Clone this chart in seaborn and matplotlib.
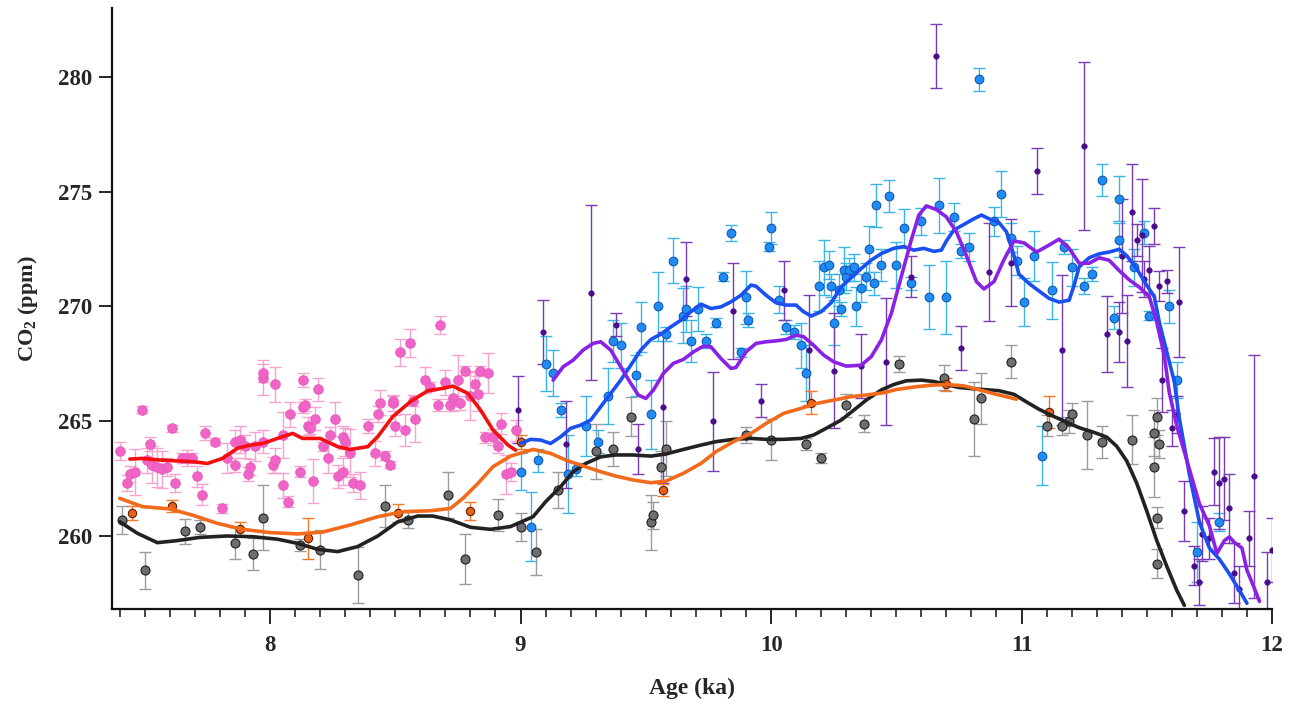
import numpy as np
import seaborn as sns
import matplotlib
matplotlib.use("Agg")
import matplotlib.pyplot as plt

# ---- pink dataset (7.4-9.0 ka) ----
pink_age = [7.40, 7.43, 7.44, 7.46, 7.49, 7.51, 7.52, 7.53, 7.55, 7.57, 7.59, 7.61, 7.62, 7.65, 7.67, 7.69,
            7.71, 7.73, 7.74, 7.78, 7.81, 7.83, 7.86, 7.86, 7.88, 7.90, 7.91, 7.92, 7.94, 7.97, 7.97, 7.97,
            8.01, 8.02, 8.02, 8.05, 8.05, 8.07, 8.08, 8.12, 8.13, 8.13, 8.14, 8.15, 8.16, 8.17, 8.18, 8.19,
            8.21, 8.23, 8.24, 8.26, 8.27, 8.29, 8.29, 8.30, 8.32, 8.33, 8.36, 8.39, 8.42, 8.43, 8.44, 8.46,
            8.48, 8.49, 8.49, 8.50, 8.52, 8.54, 8.56, 8.57, 8.58, 8.62, 8.64, 8.67, 8.68, 8.70, 8.72, 8.73,
            8.75, 8.76, 8.78, 8.80, 8.82, 8.83, 8.84, 8.86, 8.87, 8.89, 8.91, 8.92, 8.94, 8.96, 8.98]
pink_co2 = [263.7, 262.3, 262.7, 262.8, 265.5, 263.3, 264.0, 263.1, 263.0, 262.9, 263.0, 264.7, 262.3, 263.4, 263.4, 263.4,
            262.6, 261.8, 264.5, 264.1, 261.2, 263.4, 263.1, 264.1, 264.2, 263.9, 262.7, 263.0, 263.9, 264.1, 266.9, 267.1,
            263.1, 266.6, 263.3, 264.4, 262.2, 261.5, 265.3, 262.8, 265.6, 266.8, 265.7, 264.8, 264.7, 262.4, 265.1, 266.4,
            263.9, 263.4, 264.4, 265.1, 262.6, 262.8, 264.3, 264.1, 263.6, 262.3, 262.2, 264.8, 263.6, 265.3, 265.8, 263.5,
            263.1, 265.8, 265.9, 264.8, 268.0, 264.6, 268.4, 265.9, 265.1, 266.8, 266.5, 265.7, 269.2, 266.7, 265.7, 266.0,
            266.8, 265.8, 267.2, 266.1, 266.6, 266.2, 267.2, 264.3, 267.1, 264.3, 263.9, 264.9, 262.7, 262.8, 264.6]
pink_err = [0.4, 0.35, 0.35, 1.0, 0.15, 0.55, 0.3, 0.8, 0.85, 0.8, 0.4, 0.15, 0.4, 0.2, 0.35, 0.2,
            0.45, 0.45, 0.3, 0.15, 0.2, 0.65, 0.3, 0.5, 0.6, 0.5, 0.3, 0.35, 0.65, 0.5, 0.75, 0.4,
            0.35, 0.75, 0.55, 1.0, 0.55, 0.25, 0.55, 0.25, 0.25, 0.3, 0.25, 0.4, 0.25, 0.95, 0.5, 0.5,
            0.2, 0.65, 0.35, 0.75, 0.5, 0.6, 0.5, 0.6, 1.05, 0.4, 0.6, 0.3, 0.55, 0.35, 0.55, 0.2,
            0.15, 0.35, 0.2, 0.45, 0.6, 0.7, 0.6, 0.25, 1.0, 0.55, 0.2, 0.25, 0.4, 0.55, 0.25, 0.55,
            1.1, 0.3, 0.2, 1.05, 0.6, 0.75, 0.2, 0.25, 0.85, 0.35, 0.3, 0.45, 0.85, 0.4, 0.45]

red_age = [7.44, 7.49, 7.56, 7.63, 7.69, 7.75, 7.81, 7.87, 7.92, 7.97, 8.03, 8.09, 8.13, 8.20,
           8.27, 8.32, 8.39, 8.43, 8.49, 8.56, 8.63, 8.69, 8.73, 8.79, 8.84, 8.89, 8.95, 8.98]
red_co2 = [263.35, 263.38, 263.31, 263.27, 263.24, 263.16, 263.38, 263.82, 263.96, 264.03, 264.25, 264.47, 264.25, 264.25,
           263.89, 263.77, 263.89, 264.33, 265.2, 265.85, 266.33, 266.43, 266.53, 266.21, 265.49, 264.62, 263.96, 263.74]

# ---- grey dataset ----
grey_age = [7.41, 7.50, 7.66, 7.72, 7.86, 7.93, 7.97, 8.12, 8.20, 8.35, 8.46, 8.55, 8.71, 8.78, 8.91, 9.00,
            9.06, 9.15, 9.30, 9.37, 9.44, 9.52, 9.53, 9.56, 9.58, 9.90, 10.00, 10.14, 10.20, 10.30, 10.37, 10.51,
            10.69, 10.81, 10.84, 10.96, 11.10, 11.16, 11.19, 11.20, 11.26, 11.32, 11.44, 11.53, 11.54, 11.55,
            11.53, 11.54, 11.54]
grey_co2 = [260.7, 258.5, 260.2, 260.4, 259.7, 259.2, 260.8, 259.6, 259.4, 258.3, 261.3, 260.7, 261.8, 259.0, 260.9, 260.4,
            259.3, 262.0, 263.7, 263.8, 265.2, 260.6, 260.9, 263.0, 263.8, 264.4, 264.2, 264.0, 263.4, 265.7, 264.9, 267.5,
            266.9, 265.1, 266.0, 267.6, 264.8, 264.8, 265.0, 265.3, 264.4, 264.1, 264.2, 264.5, 265.2, 264.0,
            263.0, 260.8, 258.8]
grey_err = [0.6, 0.8, 0.55, 0.3, 0.7, 0.7, 1.4, 0.25, 0.85, 1.2, 0.9, 0.35, 1.0, 1.1, 0.7, 0.6,
            1.0, 0.8, 1.2, 0.75, 0.85, 1.2, 0.6, 0.7, 1.2, 0.35, 0.9, 0.25, 0.2, 0.5, 0.35, 0.35,
            0.55, 1.6, 1.1, 0.7, 0.45, 0.4, 0.5, 0.5, 1.5, 0.7, 1.05, 1.0, 0.8, 0.6,
            1.3, 0.45, 0.65]

black_age = [7.40, 7.47, 7.55, 7.63, 7.72, 7.83, 7.93, 8.03, 8.11, 8.19, 8.27, 8.35, 8.43, 8.51, 8.59, 8.65,
             8.72, 8.80, 8.88, 8.96, 9.05, 9.10, 9.16, 9.21, 9.26, 9.32, 9.38, 9.45, 9.52, 9.58, 9.65, 9.72,
             9.78, 9.85, 9.92, 9.98, 10.05, 10.12, 10.17, 10.22, 10.28, 10.33, 10.38, 10.44, 10.49, 10.54,
             10.60, 10.65, 10.70, 10.75, 10.81, 10.86, 10.91, 10.97, 11.02, 11.07, 11.13, 11.18, 11.23, 11.29,
             11.34, 11.38, 11.42, 11.46, 11.50, 11.54, 11.58, 11.62, 11.65]
black_co2 = [260.62, 260.12, 259.71, 259.80, 259.94, 260.0, 259.97, 259.86, 259.68, 259.42, 259.32, 259.54, 260.0, 260.62,
             260.87, 260.87, 260.70, 260.38, 260.29, 260.41, 260.84, 261.49, 262.15, 262.80, 263.16, 263.45, 263.53,
             263.53, 263.48, 263.57, 263.77, 263.96, 264.11, 264.21, 264.25, 264.21, 264.21, 264.25, 264.40, 264.69,
             265.05, 265.48, 265.92, 266.36, 266.60, 266.76, 266.79, 266.73, 266.60, 266.47, 266.41, 266.37, 266.33,
             266.17, 265.84, 265.52, 265.20, 264.96, 264.72, 264.51, 264.31, 263.91, 263.27, 262.30, 261.09, 259.80,
             258.68, 257.63, 256.98]

# ---- orange dataset ----
orange_age = [7.45, 7.61, 7.88, 8.15, 8.51, 8.80, 9.00, 9.57, 10.16, 10.70, 11.11]
orange_co2 = [261.0, 261.3, 260.3, 259.9, 261.0, 261.1, 264.1, 262.0, 265.8, 266.6, 265.4]
orange_err = [0.3, 0.25, 0.3, 0.9, 0.4, 0.4, 0.3, 0.25, 0.5, 0.3, 0.7]

orline_age = [7.40, 7.49, 7.60, 7.69, 7.79, 7.89, 8.00, 8.11, 8.21, 8.32, 8.43, 8.53, 8.64, 8.72, 8.77, 8.83,
              8.89, 8.96, 9.05, 9.12, 9.18, 9.25, 9.32, 9.38, 9.45, 9.52, 9.58, 9.65, 9.72, 9.78, 9.85, 9.92,
              9.98, 10.05, 10.12, 10.18, 10.25, 10.32, 10.38, 10.45, 10.50, 10.57, 10.64, 10.70, 10.77, 10.83,
              10.90, 10.98]
orline_co2 = [261.64, 261.28, 261.18, 260.91, 260.55, 260.29, 260.15, 260.09, 260.17, 260.48, 260.84, 261.06, 261.10,
              261.2, 261.64, 262.29, 263.02, 263.48, 263.77, 263.60, 263.31, 263.05, 262.80, 262.61, 262.44, 262.32,
              262.39, 262.73, 263.16, 263.67, 264.11, 264.47, 264.90, 265.34, 265.56, 265.77, 265.92, 266.07, 266.14,
              266.24, 266.38, 266.49, 266.57, 266.60, 266.54, 266.37, 266.17, 265.96]

# ---- blue dataset ----
blue_age = [9.00, 9.04, 9.07, 9.10, 9.13, 9.16, 9.19, 9.22, 9.26, 9.31, 9.35, 9.37, 9.40, 9.46, 9.48, 9.52,
            9.55, 9.58, 9.61, 9.65, 9.66, 9.68, 9.71, 9.74, 9.78, 9.81, 9.84, 9.88, 9.90, 9.91, 9.99, 10.00,
            10.03, 10.06, 10.09, 10.12, 10.14, 10.19, 10.21, 10.23, 10.24, 10.25, 10.27, 10.28, 10.29, 10.30,
            10.31, 10.33, 10.34, 10.36, 10.38, 10.39, 10.41, 10.42, 10.44, 10.47, 10.50, 10.53, 10.56, 10.60,
            10.63, 10.67, 10.70, 10.73, 10.76, 10.79, 10.83, 10.89, 10.92, 10.96, 10.98, 11.01, 11.05, 11.08,
            11.12, 11.17, 11.20, 11.25, 11.28, 11.32, 11.37, 11.39, 11.39, 11.45, 11.49, 11.51, 11.59, 11.62,
            11.70, 11.79]
blue_co2 = [262.8, 260.4, 263.3, 267.5, 267.1, 265.5, 262.7, 262.9, 264.8, 264.1, 266.1, 268.5, 268.3, 267.0, 269.1, 265.3,
            270.0, 268.8, 272.0, 269.6, 269.9, 268.5, 269.9, 268.5, 269.3, 271.3, 273.2, 268.0, 270.4, 269.4, 272.6, 273.4,
            270.3, 269.1, 268.9, 268.3, 267.1, 270.9, 271.7, 271.8, 270.9, 269.3, 270.7, 269.9, 271.6, 271.3,
            271.6, 271.7, 270.0, 270.8, 271.3, 272.5, 271.0, 274.4, 271.8, 274.8, 271.8, 273.4, 271.0, 273.7,
            270.4, 274.4, 270.4, 273.9, 272.4, 272.6, 279.9, 273.7, 274.9, 273.0, 272.0, 270.2, 272.2, 263.5,
            270.7, 272.6, 271.7, 270.9, 271.4, 275.5, 269.5, 272.9, 274.7, 271.7, 273.2, 269.6, 270.0, 266.8,
            259.3, 260.6]
blue_err = [0.8, 1.5, 0.5, 1.2, 1.0, 0.3, 1.7, 0.3, 1.3, 0.5, 1.2, 0.9, 1.0, 0.9, 1.1, 1.5,
            1.5, 0.3, 1.0, 1.2, 1.0, 0.9, 0.95, 0.3, 0.2, 0.2, 0.35, 0.2, 1.15, 0.3, 0.2, 0.7,
            0.6, 0.3, 0.3, 1.0, 1.2, 1.1, 1.2, 0.6, 0.5, 1.0, 0.7, 0.3, 1.0, 0.6,
            0.5, 0.6, 0.85, 0.6, 0.6, 1.0, 0.5, 0.95, 0.7, 0.7, 1.0, 0.85, 0.3, 0.6,
            1.4, 1.2, 1.6, 0.6, 0.3, 0.6, 0.5, 0.65, 1.0, 0.65, 0.65, 1.05, 1.1, 1.3,
            1.25, 0.3, 0.8, 0.35, 0.3, 0.7, 0.5, 0.75, 1.0, 0.8, 0.5, 0.2, 0.7, 0.8,
            1.3, 0.4]

bline_age = [9.00, 9.04, 9.08, 9.12, 9.16, 9.20, 9.24, 9.28, 9.32, 9.36, 9.40, 9.44, 9.48, 9.52, 9.56, 9.60,
             9.64, 9.68, 9.72, 9.76, 9.80, 9.84, 9.88, 9.92, 9.94, 9.98, 10.02, 10.06, 10.10, 10.13, 10.16, 10.20,
             10.24, 10.28, 10.32, 10.36, 10.40, 10.44, 10.49, 10.53, 10.57, 10.61, 10.65, 10.68, 10.70, 10.73,
             10.77, 10.81, 10.84, 10.87, 10.91, 10.94, 10.97, 10.99, 11.03, 11.07, 11.11, 11.15, 11.19, 11.21,
             11.23, 11.27, 11.31, 11.35, 11.39, 11.42, 11.46, 11.50, 11.53, 11.55, 11.58, 11.61, 11.63, 11.67,
             11.71, 11.75, 11.79, 11.83, 11.87, 11.90]
bline_co2 = [264.03, 264.21, 264.18, 264.03, 264.32, 264.69, 264.83, 265.05, 265.63, 266.21, 266.79, 267.44, 268.1,
             268.56, 268.79, 269.11, 269.40, 269.77, 270.1, 269.91, 269.98, 270.2, 270.49, 270.93, 270.88, 270.49,
             270.16, 270.06, 270.06, 269.77, 269.58, 269.77, 270.16, 270.85, 271.25, 271.65, 272.02, 272.3, 272.53,
             272.61, 272.45, 272.53, 272.40, 272.45, 272.85, 273.33, 273.57, 273.82, 273.98, 273.82, 273.65, 273.25,
             272.21, 271.40, 271.0, 270.67, 270.35, 270.19, 270.27, 270.92, 271.72, 272.12, 272.29, 272.37, 272.49,
             272.21, 271.64, 270.92, 270.43, 269.31, 268.02, 266.73, 265.12, 262.70, 260.61, 259.48, 258.99, 258.35,
             257.63, 257.07]

# ---- purple dataset ----
purple_age = [8.99, 9.09, 9.18, 9.28, 9.38, 9.47, 9.57, 9.66, 9.77, 9.85, 9.96, 10.05, 10.15, 10.25, 10.36, 10.46,
              10.56, 10.66, 10.76, 10.87, 10.96, 11.06, 11.16, 11.25, 11.34, 11.39, 11.40, 11.42, 11.44, 11.46,
              11.48, 11.49, 11.51, 11.53, 11.55, 11.56, 11.58, 11.60, 11.62, 11.63, 11.65, 11.69, 11.71, 11.72,
              11.75, 11.77, 11.79, 11.81, 11.83, 11.85, 11.87, 11.91, 11.93, 11.98, 12.00]
purple_co2 = [265.5, 268.9, 264.0, 270.6, 269.2, 263.8, 265.6, 271.2, 265.0, 269.8, 265.9, 270.7, 268.1, 267.2, 267.4, 267.6,
              271.3, 280.9, 268.2, 271.5, 271.9, 275.9, 268.1, 277.0, 268.8, 268.9, 272.2, 268.5, 274.1, 272.9,
              273.1, 271.2, 271.6, 273.5, 270.9, 266.8, 271.1, 264.7, 265.3, 270.2, 261.1, 258.7, 258.0, 260.1,
              259.9, 262.8, 262.3, 262.5, 261.2, 258.4, 257.7, 259.9, 262.6, 258.0, 259.4]
purple_err = [1.45, 1.4, 1.9, 3.8, 0.5, 1.1, 3.3, 1.6, 2.15, 2.1, 0.7, 1.3, 2.4, 2.5, 1.4, 2.75,
              0.9, 1.4, 0.95, 2.15, 1.9, 1.0, 3.25, 3.65, 1.65, 1.3, 2.5, 2.0, 2.1, 0.7,
              2.45, 0.8, 1.05, 0.8, 0.65, 1.4, 0.5, 0.8, 0.8, 2.4, 1.3, 0.85, 1.0, 1.2,
              0.9, 1.45, 2.0, 1.8, 1.5, 1.3, 1.0, 1.2, 5.3, 1.3, 1.4]

pline_age = [9.13, 9.17, 9.21, 9.25, 9.29, 9.32, 9.36, 9.40, 9.44, 9.47, 9.50, 9.53, 9.57, 9.61, 9.65, 9.69,
             9.73, 9.76, 9.80, 9.84, 9.86, 9.90, 9.94, 9.98, 10.02, 10.06, 10.10, 10.13, 10.17, 10.21, 10.25,
             10.30, 10.36, 10.40, 10.44, 10.48, 10.52, 10.56, 10.59, 10.62, 10.66, 10.70, 10.74, 10.78, 10.82,
             10.85, 10.89, 10.93, 10.97, 11.01, 11.06, 11.10, 11.15, 11.19, 11.23, 11.27, 11.31, 11.35, 11.39,
             11.43, 11.47, 11.51, 11.54, 11.57, 11.59, 11.62, 11.65, 11.68, 11.71, 11.75, 11.78, 11.81, 11.83,
             11.85, 11.88, 11.90, 11.93, 11.95]
pline_co2 = [266.79, 267.37, 267.66, 268.1, 268.39, 268.46, 268.10, 267.37, 266.65, 266.14, 265.99, 266.35, 267.08,
             267.52, 267.69, 268.02, 268.27, 268.24, 267.73, 267.3, 267.34, 268.02, 268.39, 268.46, 268.50, 268.56,
             268.75, 268.68, 268.31, 267.88, 267.59, 267.40, 267.44, 267.81, 268.53, 269.69, 271.3, 272.9, 273.98,
             274.38, 274.22, 273.90, 273.25, 272.21, 271.08, 270.76, 271.08, 272.04, 272.85, 272.77, 272.37, 272.61,
             272.93, 272.53, 271.88, 271.88, 272.12, 272.01, 271.56, 271.16, 270.84, 270.43, 269.31, 267.86, 266.25,
             264.80, 263.67, 262.54, 261.41, 260.45, 259.24, 259.80, 259.96, 259.72, 259.48, 258.51, 257.71, 257.15]

sns.set_style("ticks")
plt.rcParams['font.family'] = ['Liberation Serif', 'DejaVu Serif']
plt.rcParams['font.weight'] = 'bold'
plt.rcParams['mathtext.fontset'] = 'custom'
plt.rcParams['mathtext.rm'] = 'Liberation Serif:bold'
plt.rcParams['mathtext.bf'] = 'Liberation Serif:bold'

fig = plt.figure(figsize=(12.95, 7.16), dpi=100)
ax = fig.add_axes([112 / 1295, 1 - 609 / 716, 1160 / 1295, 601 / 716])


def points(age, co2, err, face, edge, bar, size, lw_edge):
    ax.errorbar(age, co2, yerr=err, fmt='none', ecolor=bar, elinewidth=1.0,
                capsize=4, capthick=1.0, zorder=1)
    sns.scatterplot(x=age, y=co2, ax=ax, color=face, edgecolor=edge, s=size,
                    linewidth=lw_edge, zorder=2, legend=False)


points(pink_age, pink_co2, pink_err, '#f064c8', '#e65ab9', '#f5a3cf', 48, 0.6)
points(grey_age, grey_co2, grey_err, '#6e6e6e', '#1e1e1e', '#9c9c9c', 42, 0.8)
points(blue_age, blue_co2, blue_err, '#1f8cf5', '#0d4fa8', '#3cb4e6', 40, 0.7)
points(purple_age, purple_co2, purple_err, '#4a0c8c', '#4a0c8c', '#7a3cb4', 16, 0.4)
points(orange_age, orange_co2, orange_err, '#e8601c', '#5a2000', '#f07a2a', 36, 0.8)


def curve(age, co2, color):
    sns.lineplot(x=age, y=co2, ax=ax, color=color, linewidth=2.6, sort=False,
                 estimator=None, zorder=3, legend=False)


curve(red_age, red_co2, '#f01010')
curve(black_age, black_co2, '#222222')
curve(orline_age, orline_co2, '#f26a1b')
curve(bline_age, bline_co2, '#1a4ff0')
curve(pline_age, pline_co2, '#8a22e6')

ax.set_xlim(7.369, 12.0)
ax.set_ylim(256.82, 283.0)
ax.set_xticks([8, 9, 10, 11, 12])
ax.set_xticks(np.arange(7.4, 12.0, 0.1), minor=True)
ax.set_yticks([260, 265, 270, 275, 280])
sns.despine(ax=ax)
for s in ['left', 'bottom']:
    ax.spines[s].set_linewidth(1.6)
    ax.spines[s].set_color('#111111')
ax.tick_params(axis='x', which='major', length=11, width=1.4, pad=8, labelsize=16.5, direction='out')
ax.tick_params(axis='x', which='minor', length=6, width=1.2, direction='out')
ax.tick_params(axis='y', which='major', length=9.5, width=1.4, pad=5, labelsize=16.5, direction='out')
for lab in ax.get_xticklabels() + ax.get_yticklabels():
    lab.set_fontweight('bold')

ax.set_xlabel('Age (ka)', fontsize=17, fontweight='bold')
ax.set_ylabel(r'CO$_\mathrm{2}$ (ppm)', fontsize=16, fontweight='bold')
ax.xaxis.set_label_coords(0.5, -0.115)
ax.yaxis.set_label_coords(-0.062, 0.5)

fig.savefig('out.png', dpi=100)
